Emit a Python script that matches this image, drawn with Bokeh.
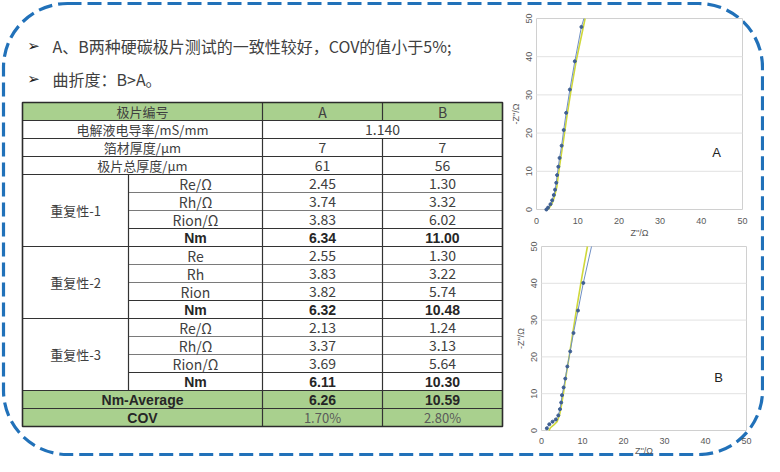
import math
from bokeh.plotting import figure
from bokeh.models import Range1d, ColumnDataSource
from bokeh.core.properties import value
from bokeh.embed import file_html
from bokeh.resources import INLINE

# ---------------- data ----------------
bullet_lines = ["A、B两种硬碳极片测试的一致性较好，COV的值小于5%;", "曲折度：B>A。"]

header = ["极片编号", "A", "B"]
conductivity_label = "电解液电导率/mS/mm"
conductivity_value = "1.140"
foil_label = "箔材厚度/μm"
foil_values = ["7", "7"]
total_label = "极片总厚度/μm"
total_values = ["61", "56"]
group_labels = ["重复性-1", "重复性-2", "重复性-3"]
param_labels = [["Re/Ω", "Rh/Ω", "Rion/Ω", "Nm"],
                ["Re", "Rh", "Rion", "Nm"],
                ["Re/Ω", "Rh/Ω", "Rion/Ω", "Nm"]]
values_A = [[2.45, 3.74, 3.83, 6.34],
            [2.55, 3.83, 3.82, 6.32],
            [2.13, 3.37, 3.69, 6.11]]
values_B = [[1.30, 3.32, 6.02, 11.00],
            [1.30, 3.22, 5.74, 10.48],
            [1.24, 3.13, 5.64, 10.30]]
avg_label = "Nm-Average"
avg_values = ["6.26", "10.59"]
cov_label = "COV"
cov_values = ["1.70%", "2.80%"]

# Nyquist data (last point of each series = where the curve leaves the plot at the top)
A_meas_x = [2.4, 2.8, 3.4, 3.8, 4.2, 4.5, 4.8, 5.0, 5.3, 5.6, 6.1, 6.6, 7.2, 8.1, 9.3, 10.9, 11.5]
A_meas_y = [0.0, 0.5, 1.4, 2.4, 3.8, 5.2, 7.0, 9.0, 11.2, 13.5, 16.7, 20.8, 25.3, 31.4, 38.8, 47.8, 50.0]
A_fit_x = [2.7, 3.0, 3.45, 3.95, 4.4, 4.95, 5.35, 5.9, 6.6, 7.4, 8.35, 9.65, 11.8]
A_fit_y = [0.0, 0.3, 1.0, 2.0, 3.5, 6.0, 9.5, 13.5, 18.5, 24.5, 31.0, 39.0, 50.0]
B_meas_x = [1.3, 1.9, 2.7, 3.5, 4.1, 4.5, 4.8, 5.0, 5.4, 5.8, 6.3, 7.0, 7.8, 8.9, 10.2, 12.2]
B_meas_y = [0.6, 1.7, 2.4, 3.0, 4.1, 5.8, 7.6, 9.6, 11.7, 14.1, 17.4, 21.5, 26.5, 32.6, 40.1, 50.0]
B_fit_x = [1.8, 2.2, 3.0, 3.8, 4.4, 4.9, 5.4, 6.0, 6.8, 7.7, 8.7, 9.9, 11.2]
B_fit_y = [0.0, 0.8, 1.5, 2.4, 4.2, 7.0, 10.5, 15.0, 20.5, 27.0, 34.0, 42.0, 50.0]
axis_ticks = [0, 10, 20, 30, 40, 50]
axis_min, axis_max = 0, 50
x_title = "Z''/Ω"
y_title = "-Z''/Ω"

# ---------------- styles ----------------
CJK = "Noto Sans CJK SC"
LAT = "Liberation Sans"
TXT = "#404040"
GREEN = "#A9D08E"
BLUE = "#2171B9"

W, H = 764, 456
p = figure(width=W, height=H, x_range=Range1d(0, W), y_range=Range1d(H, 0),
           min_border=0, x_axis_location=None, y_axis_location=None,
           toolbar_location=None, output_backend="svg", outline_line_color=None)
p.grid.visible = False

# dashed rounded frame
p.quad(left=[3], right=[W - 2], top=[3], bottom=[H - 2], fill_color=None,
       line_color=BLUE, line_width=3.2, line_dash="14 6", border_radius=64)

# bullets
for i, t in enumerate(bullet_lines):
    yy = 45 + i * 33
    p.text(x=[33], y=[yy], text=["➢"], text_font=value("DejaVu Sans"),
           text_font_size="15px", text_color="#1a1a1a", text_align="center",
           text_baseline="middle")
    p.text(x=[52], y=[yy], text=[t], text_font=value(CJK),
           text_font_size="16px", text_color=TXT, text_align="left",
           text_baseline="middle")

# ---------------- table ----------------
TX = [22, 128, 262, 382, 502]
TY0 = 102
RH = 18.0
NROW = 18

def ry(i):
    return TY0 + i * RH

def rc(i):
    return TY0 + (i + 0.5) * RH

green_rows = [0, 16, 17]
p.quad(left=[TX[0]] * 3, right=[TX[4]] * 3, top=[ry(i) for i in green_rows],
       bottom=[ry(i + 1) for i in green_rows], fill_color=GREEN, line_color=None)

dark = dict(x0=[], y0=[], x1=[], y1=[])
light = dict(x0=[], y0=[], x1=[], y1=[])
def seg(d, x0, y0, x1, y1):
    d["x0"].append(x0); d["y0"].append(y0); d["x1"].append(x1); d["y1"].append(y1)

for i in [1, 2, 3, 4, 8, 12, 16, 17]:
    seg(dark, TX[0], ry(i), TX[4], ry(i))
for g in range(3):
    base = 4 + 4 * g
    seg(light, TX[1], ry(base + 1), TX[4], ry(base + 1))
    seg(light, TX[1], ry(base + 2), TX[4], ry(base + 2))
    seg(dark, TX[1], ry(base + 3), TX[4], ry(base + 3))
seg(dark, TX[1], ry(4), TX[1], ry(16))
seg(dark, TX[2], ry(0), TX[2], ry(NROW))
seg(dark, TX[3], ry(0), TX[3], ry(1))
seg(dark, TX[3], ry(2), TX[3], ry(NROW))
p.segment(source=ColumnDataSource(light), x0="x0", y0="y0", x1="x1", y1="y1",
          line_color="#7a7a7a", line_width=1)
p.segment(source=ColumnDataSource(dark), x0="x0", y0="y0", x1="x1", y1="y1",
          line_color="#333333", line_width=1.2)
p.quad(left=[TX[0]], right=[TX[4]], top=[ry(0)], bottom=[ry(NROW)],
       fill_color=None, line_color="#2b2b2b", line_width=1.6)

styles = {
    "cjk": dict(font=CJK, size="13px", color=TXT, style="normal"),
    "num": dict(font=CJK, size="14px", color=TXT, style="normal"),
    "bold": dict(font=LAT, size="14px", color="#262626", style="bold"),
    "cov": dict(font=CJK, size="13px", color="#5a5a5a", style="normal"),
}
cells = {k: dict(x=[], y=[], text=[]) for k in styles}
def put(kind, x, y, t):
    cells[kind]["x"].append(x); cells[kind]["y"].append(y); cells[kind]["text"].append(t)

mid01 = (TX[0] + TX[2]) / 2
colA = (TX[2] + TX[3]) / 2
colB = (TX[3] + TX[4]) / 2
put("cjk", mid01, rc(0), header[0])
put("num", colA, rc(0), header[1])
put("num", colB, rc(0), header[2])
put("cjk", mid01, rc(1), conductivity_label)
put("num", (TX[2] + TX[4]) / 2, rc(1), conductivity_value)
put("cjk", mid01, rc(2), foil_label)
put("num", colA, rc(2), foil_values[0])
put("num", colB, rc(2), foil_values[1])
put("cjk", mid01, rc(3), total_label)
put("num", colA, rc(3), total_values[0])
put("num", colB, rc(3), total_values[1])
for g in range(3):
    base = 4 + 4 * g
    put("cjk", (TX[0] + TX[1]) / 2, (ry(base) + ry(base + 4)) / 2, group_labels[g])
    for k in range(4):
        kind = "bold" if k == 3 else "num"
        put(kind, (TX[1] + TX[2]) / 2, rc(base + k), param_labels[g][k])
        put(kind, colA, rc(base + k), f"{values_A[g][k]:.2f}")
        put(kind, colB, rc(base + k), f"{values_B[g][k]:.2f}")
put("bold", mid01, rc(16), avg_label)
put("bold", colA, rc(16), avg_values[0])
put("bold", colB, rc(16), avg_values[1])
put("bold", mid01, rc(17), cov_label)
put("cov", colA, rc(17), cov_values[0])
put("cov", colB, rc(17), cov_values[1])

for k, s in styles.items():
    p.text(source=ColumnDataSource(cells[k]), x="x", y="y", text="text",
           text_font=value(s["font"]), text_font_size=s["size"],
           text_color=s["color"], text_font_style=s["style"],
           text_align="center", text_baseline="middle")


# ---------------- Nyquist insets (sub-coordinate systems) ----------------
def nyquist(left, right, top, bottom, mx, my, fitx, fity, label, lx, ly, tick_off, title_off):
    sp = p.subplot(x_source=Range1d(axis_min, axis_max), y_source=Range1d(axis_min, axis_max),
                   x_target=Range1d(left, right), y_target=Range1d(bottom, top))
    sp.quad(left=[axis_min], right=[axis_max], bottom=[axis_min], top=[axis_max],
            fill_color="white", line_color="#D0D0D0", line_width=1)
    inner = axis_ticks[1:-1]
    sp.segment(x0=[axis_min] * len(inner), x1=[axis_max] * len(inner), y0=inner, y1=inner,
               line_color="#E2E2E2", line_width=1)
    sp.line(fitx, fity, line_color="#CFD83A", line_width=1.6)
    sp.line(mx, my, line_color="#6F8FC4", line_width=1)
    sp.scatter(mx[:-1], my[:-1], size=3, fill_color="#3E5F92", line_color="#3E5F92")
    lab = [str(t) for t in axis_ticks]
    tick_style = dict(text_font=value(LAT), text_font_size="9px", text_color="#595959",
                      text_align="center", text_baseline="middle")
    sp.text(x=axis_ticks, y=[axis_min] * len(axis_ticks), text=lab, y_offset=tick_off, **tick_style)
    sp.text(x=[axis_min] * len(axis_ticks), y=axis_ticks, text=lab, x_offset=-8,
            angle=math.pi / 2, **tick_style)
    sp.text(x=[(axis_min + axis_max) / 2], y=[axis_min], text=[x_title], y_offset=title_off,
            **tick_style)
    sp.text(x=[axis_min], y=[(axis_min + axis_max) / 2], text=[y_title], x_offset=-21,
            angle=math.pi / 2, **tick_style)
    sp.text(x=[lx], y=[ly], text=[label], text_font=value(LAT),
            text_font_size="13px", text_color="#222222", text_align="center",
            text_baseline="middle")

nyquist(536, 742, 18, 209, A_meas_x, A_meas_y, A_fit_x, A_fit_y, "A", 43.7, 14.9, 11, 23)
nyquist(541, 746, 246, 430, B_meas_x, B_meas_y, B_fit_x, B_fit_y, "B", 43.2, 14.5, 10, 20)

open("out.html", "w").write(file_html(p, INLINE))
